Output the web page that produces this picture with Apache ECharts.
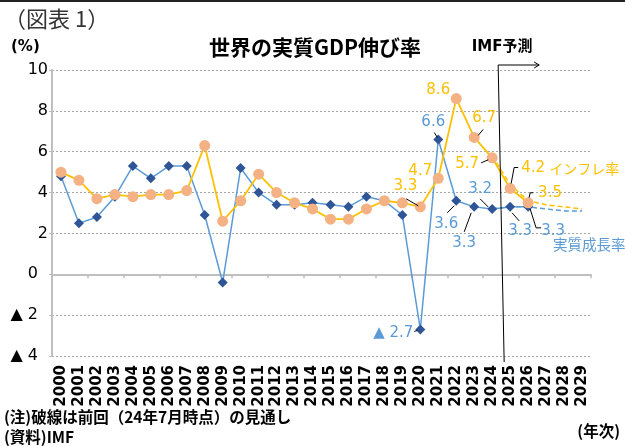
<!DOCTYPE html>
<html>
<head>
<meta charset="utf-8">
<script src="https://cdn.jsdelivr.net/npm/echarts@6/dist/echarts.min.js"></script>
<style>
  html, body { margin: 0; padding: 0; background: #fff; }
  #main { width: 625px; height: 446px; }
</style>
</head>
<body>
<div id="main"></div>
<script>
// --- data ---
const years = ['2000','2001','2002','2003','2004','2005','2006','2007','2008','2009',
  '2010','2011','2012','2013','2014','2015','2016','2017','2018','2019',
  '2020','2021','2022','2023','2024','2025','2026','2027','2028','2029'];
const gdpGrowth = [4.8, 2.5, 2.8, 3.8, 5.3, 4.7, 5.3, 5.3, 2.9, -0.4,
  5.2, 4.0, 3.4, 3.4, 3.5, 3.4, 3.3, 3.8, 3.6, 2.9,
  -2.7, 6.6, 3.6, 3.3, 3.2, 3.3, 3.3, null, null, null];
const inflation = [5.0, 4.6, 3.7, 3.9, 3.8, 3.9, 3.9, 4.1, 6.3, 2.6,
  3.6, 4.9, 4.0, 3.5, 3.2, 2.7, 2.7, 3.2, 3.6, 3.5,
  3.3, 4.7, 8.6, 6.7, 5.7, 4.2, 3.5, null, null, null];
// previous outlook (Jul 2024), drawn dashed
const gdpGrowthPrev = [null, null, null, null, null, null, null, null, null, null,
  null, null, null, null, null, null, null, null, null, null,
  null, null, null, null, 3.2, 3.3, 3.3, 3.2, 3.1, 3.1];
const inflationPrev = [null, null, null, null, null, null, null, null, null, null,
  null, null, null, null, null, null, null, null, null, null,
  null, null, null, null, 5.8, 4.4, 3.6, 3.4, 3.3, 3.2];
const yMin = -4, yMax = 10, yStep = 2;

// --- callouts: [year, label dx, label dy, align, leader points relative to the mark] ---
const inflCallouts = [
  ['2020', -15, -21, 'center', [[-14, -8], [-2, -1]]],
  ['2021', -18, -7, 'center', null],
  ['2022', -18, -8, 'center', null],
  ['2023', 10, -19, 'center', [[9, -8], [4, -2]]],
  ['2024', -25, 6, 'center', [[-11, 5], [-4, 2]]],
  ['2025', 11, -20, 'left', [[8, -21], [4, -21], [1, -5]]],
  ['2026', 10, -10, 'left', [[5, -10], [2, -10], [1, -5]]]
];
const gdpCallouts = [
  ['2020', -7, 4, 'right', [[-6, 2], [-3, 1]]],
  ['2021', -5, -17, 'center', [[-4, -7], [-1, -2]]],
  ['2022', -10, 23, 'center', [[-9, 12], [-2, 5]]],
  ['2023', -10, 36, 'center', [[-10, 25], [-3, 6]]],
  ['2024', -12, -20, 'center', [[-12, -10], [-4, -2]]],
  ['2025', 10, 24, 'center', [[2, 6], [9, 14]]],
  ['2026', 25, 24, 'center', [[2, 2], [8, 21], [13, 21]]]
];

const BLUE_LINE = '#5B9BD5', BLUE_MARK = '#2F5597';
const ORANGE_LINE = '#FFC000', ORANGE_MARK = '#F4B183';
const LAT = '"DejaVu Sans", "Noto Sans CJK JP", sans-serif';
const JP = '"Noto Sans CJK JP", "DejaVu Sans", sans-serif';

const fmt = (v) => (v < 0 ? '▲ ' + (-v).toFixed(1) : v.toFixed(1));

const chart = echarts.init(document.getElementById('main'), null, { renderer: 'canvas' });

const option = {
  animation: false,
  backgroundColor: '#fff',
  grid: { left: 52, right: 34, top: 70, bottom: 90 },
  xAxis: [
    {
      type: 'category',
      data: years,
      position: 'bottom',
      boundaryGap: true,
      axisLine: { onZero: true, lineStyle: { color: '#BFBFBF', width: 2 } },
      axisTick: { show: true, length: 4, lineStyle: { color: '#BFBFBF', width: 1.5 } },
      axisLabel: { show: false },
      splitLine: { show: false }
    },
    {
      type: 'category',
      data: years,
      position: 'bottom',
      boundaryGap: true,
      axisLine: { show: false, onZero: false },
      axisTick: { show: false },
      axisLabel: {
        rotate: 90, margin: 9, interval: 0,
        fontFamily: LAT, fontSize: 15, fontWeight: 'bold', color: '#000'
      },
      splitLine: { show: false }
    }
  ],
  yAxis: {
    type: 'value',
    min: yMin, max: yMax, interval: yStep,
    axisLine: { show: true, lineStyle: { color: '#BFBFBF', width: 2 } },
    axisTick: { show: true, length: 3, lineStyle: { color: '#BFBFBF' } },
    splitLine: { show: true, lineStyle: { color: '#A6A6A6', type: [2, 2], width: 1 } },
    axisLabel: {
      margin: 4,
      formatter: (v) => v > 0 ? '{a|' + v + '}' : '{b|' + (v < 0 ? '▲ ' + (-v) : '0') + '}',
      rich: {
        a: { fontFamily: LAT, fontSize: 16, color: '#000' },
        b: { fontFamily: LAT, fontSize: 16, color: '#000', padding: [0, 10, 0, 0] }
      }
    }
  },
  series: [
    {
      name: '実質成長率(前回)', type: 'line', data: gdpGrowthPrev,
      symbol: 'none', z: 1,
      lineStyle: { color: BLUE_LINE, width: 1.5, type: [5, 3] }
    },
    {
      name: 'インフレ率(前回)', type: 'line', data: inflationPrev,
      symbol: 'none', z: 1,
      lineStyle: { color: ORANGE_LINE, width: 1.5, type: [5, 3] }
    },
    {
      name: '実質成長率', type: 'line', data: gdpGrowth,
      symbol: 'diamond', symbolSize: 10, z: 2,
      lineStyle: { color: BLUE_LINE, width: 1.5 },
      itemStyle: { color: BLUE_MARK }
    },
    {
      name: 'インフレ率', type: 'line', data: inflation,
      symbol: 'circle', symbolSize: 11, z: 3,
      lineStyle: { color: ORANGE_LINE, width: 1.8 },
      itemStyle: { color: ORANGE_MARK, borderWidth: 0 }
    }
  ]
};

chart.setOption(option);

// ============================
// annotations placed from the chart's own scales
// ============================
const g = [];
const text = (t, x, y, font, fill, align) => g.push({
  type: 'text', z: 20,
  style: { text: t, x, y, font, fill, align: align || 'left', textAlign: align || 'left',
    verticalAlign: 'middle', textVerticalAlign: 'middle' }
});
const poly = (pts, stroke, w) => g.push({
  type: 'polyline', z: 19, shape: { points: pts },
  style: { stroke: stroke || '#000', lineWidth: w || 1, fill: null }
});

function addCallouts(list, values, seriesIndex, color) {
  list.forEach(([yr, dx, dy, align, leader]) => {
    const i = years.indexOf(yr);
    const v = values[i];
    const [px, py] = chart.convertToPixel({ seriesIndex }, [i, v]);
    text(fmt(v), px + dx, py + dy, '15px ' + LAT, color, align);
    if (leader) poly(leader.map(([lx, ly]) => [px + lx, py + ly]), '#000', 1);
  });
}
addCallouts(inflCallouts, inflation, 3, ORANGE_LINE);
addCallouts(gdpCallouts, gdpGrowth, 2, BLUE_LINE);

// series names next to the last actual points
{
  const i25 = years.indexOf('2025'), i26 = years.indexOf('2026');
  const [ix, iy] = chart.convertToPixel({ seriesIndex: 3 }, [i25, inflation[i25]]);
  text('インフレ率', ix + 39, iy - 20, '14px ' + JP, ORANGE_LINE, 'left');
  const [gx, gy] = chart.convertToPixel({ seriesIndex: 2 }, [i26, gdpGrowth[i26]]);
  text('実質成長率', gx + 25, gy + 38, '14.5px ' + JP, BLUE_LINE, 'left');
}

// forecast divider between 2024 and 2025
{
  const a = chart.convertToPixel({ seriesIndex: 2 }, [years.indexOf('2024'), yMax]);
  const b = chart.convertToPixel({ seriesIndex: 2 }, [years.indexOf('2025'), yMin]);
  const xb = (a[0] + b[0]) / 2;
  const top = a[1] - 5, bot = b[1] + 6;
  poly([[xb + 3, bot], [xb - 3, top], [xb + 38, top]], '#000', 1);
  poly([[xb + 33, top - 3], [xb + 38, top], [xb + 33, top + 3]], '#000', 1);
  text('IMF予測', xb + 1, 47, 'bold 15px ' + LAT, '#000', 'center');
}

// static texts
g.push({ type: 'rect', z: 20, shape: { x: 0, y: 0, width: 625, height: 2 }, style: { fill: '#222' } });
text('（図表 1）', 4, 19, '22px ' + JP, '#333', 'left');
text('(%)', 11, 47, 'bold 15px ' + LAT, '#000', 'left');
text('世界の実質GDP伸び率', 315, 47, 'bold 21px ' + JP, '#000', 'center');
text('(注)破線は前回（24年7月時点）の見通し', 4, 417, 'bold 15.5px ' + JP, '#000', 'left');
text('(資料)IMF', 4, 437, 'bold 15.5px ' + JP, '#000', 'left');
text('(年次)', 620, 431, 'bold 15.5px ' + JP, '#000', 'right');

chart.setOption({ graphic: g });
</script>
</body>
</html>
